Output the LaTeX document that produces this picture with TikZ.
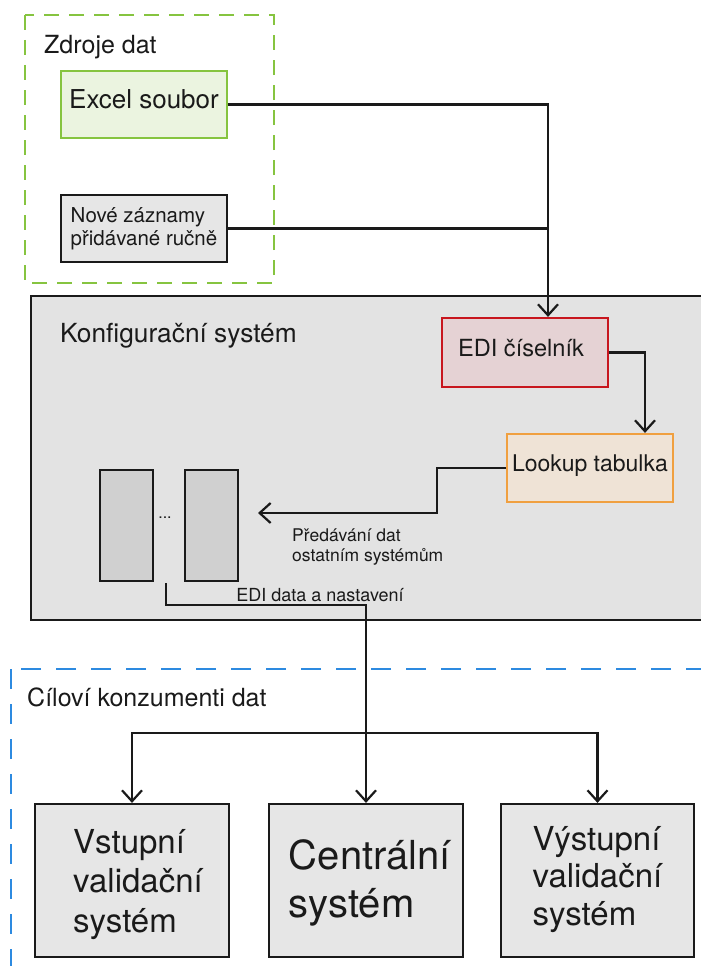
\documentclass[tikz,border=0pt]{standalone}
\usepackage{fontspec}
\setmainfont{TeX Gyre Heros}
\usetikzlibrary{arrows.meta}

\definecolor{ink}{HTML}{1A1A1A}
\definecolor{srcgreen}{HTML}{86C440}
\definecolor{excelfill}{HTML}{EBF4E0}
\definecolor{panelgrey}{HTML}{E3E3E3}
\definecolor{boxgrey}{HTML}{E6E6E6}
\definecolor{slotgrey}{HTML}{D0D0D0}
\definecolor{edired}{HTML}{C8161E}
\definecolor{edifill}{HTML}{E5D2D4}
\definecolor{lookorange}{HTML}{F0A040}
\definecolor{lookfill}{HTML}{EFE3D6}
\definecolor{targetblue}{HTML}{2D8AE0}

\newcommand{\ind}[1]{\hspace*{#1}}

\tikzset{
  box/.style={draw=ink, line width=2.2pt, inner sep=0pt, align=center, text=ink},
  onerow/.style={text height=0.72em, text depth=0pt},
  % multi-line text: last baseline sits at centre + #1/2
  rows/.style={text height=#1, text depth=0pt},
  lbl/.style={inner sep=0pt, text=ink},
  arr/.style={draw=ink, line width=2.2pt, -{Straight Barb[length=11pt,width=20pt]}},
  link/.style={draw=ink, line width=2.2pt},
  frame/.style={line width=2.2pt},
}

\begin{document}
\begin{tikzpicture}[x=1pt,y=-1pt]
\useasboundingbox (0,0) rectangle (701,966);
\clip (0,0) rectangle (701,966);

% data sources
\draw[frame, srcgreen, dash pattern=on 15pt off 10pt] (25,15) rectangle (274,283);
\node[lbl, anchor=base west, font=\fontsize{25}{29}\selectfont] (srcTitle) at (44,54) {Zdroje dat};
\node[box, onerow, draw=srcgreen, fill=excelfill, minimum width=166pt, minimum height=67pt,
      font=\fontsize{26}{30}\selectfont] (excel) at (144,104.5) {Excel soubor};
\node[box, rows=33pt, fill=boxgrey, minimum width=166pt, minimum height=67pt, align=left,
      font=\fontsize{20.5}{23}\selectfont] (manual) at (144,228.5) {Nové záznamy\\přidávané ručně};

% configuration system
\draw[line width=2.2pt, draw=ink, fill=panelgrey] (31,296) rectangle (720,620);
\node[lbl, anchor=base west, font=\fontsize{26.3}{30}\selectfont] (cfgTitle) at (60,342) {Konfigurační systém};
\node[box, onerow, draw=edired, fill=edifill, minimum width=166pt, minimum height=69pt,
      font=\fontsize{23.6}{27}\selectfont] (edi) at (525,352.5) {EDI číselník\ind{8pt}};
\node[box, onerow, draw=lookorange, fill=lookfill, minimum width=166pt, minimum height=68pt,
      font=\fontsize{23}{27}\selectfont] (lookup) at (590,468) {Lookup tabulka};
\node[box, fill=slotgrey, minimum width=53pt, minimum height=111pt] (slotA) at (126.5,525.5) {};
\node[box, fill=slotgrey, minimum width=53pt, minimum height=111pt] (slotB) at (211.5,525.5) {};
\node[lbl, font=\fontsize{16}{20}\selectfont] (dots) at (165,518) {...};

% target consumers
\draw[frame, targetblue, dash pattern=on 20pt off 15pt] (11,669) rectangle (720,990);
\node[lbl, anchor=base west, font=\fontsize{25}{29}\selectfont] (tgtTitle) at (27,706) {Cíloví konzumenti dat};
\node[box, rows=103pt, fill=boxgrey, minimum width=194pt, minimum height=153pt, align=left,
      font=\fontsize{33}{39.5}\selectfont] (inval) at (132,880.5)
      {\ind{12pt}Vstupní\\\ind{12pt}validační\\\ind{12pt}systém};
\node[box, rows=73pt, fill=boxgrey, minimum width=194pt, minimum height=153pt, align=left,
      font=\fontsize{40}{48}\selectfont] (central) at (366,880.5)
      {\ind{8pt}Centrální\\\ind{8pt}systém};
\node[box, rows=89pt, fill=boxgrey, minimum width=193pt, minimum height=153pt, align=left,
      font=\fontsize{33}{37.5}\selectfont] (outval) at (597.5,880.5) {Výstupní\\validační\\systém};

% connectors
\draw[arr] (excel.east) -| ([xshift=23pt]edi.north);
\draw[link] (manual.east) -- ([xshift=23pt]edi.north |- manual.east);
\draw[arr] (edi.east) -| ([xshift=55pt]lookup.north);

\coordinate (handoff) at (258,513);
\draw[arr] (lookup.west) -- ++(-69,0) |- (handoff);
\node[lbl, anchor=base west, align=left, font=\fontsize{17.5}{20}\selectfont] (handoffLbl) at (292,561)
  {Předávání dat\\ostatním systémům};

\coordinate (export) at (166,583);
\coordinate (exportBend) at (166,605);
\draw[arr] (export) -- (exportBend) -| (central.north);
\node[lbl, anchor=base, font=\fontsize{18}{22}\selectfont] (exportLbl) at (320,601) {EDI data a nastavení};

\coordinate (split) at (366,733);
\draw[arr] (split) -| (inval.north);
\draw[arr] (split) -| (outval.north);
\end{tikzpicture}
\end{document}
